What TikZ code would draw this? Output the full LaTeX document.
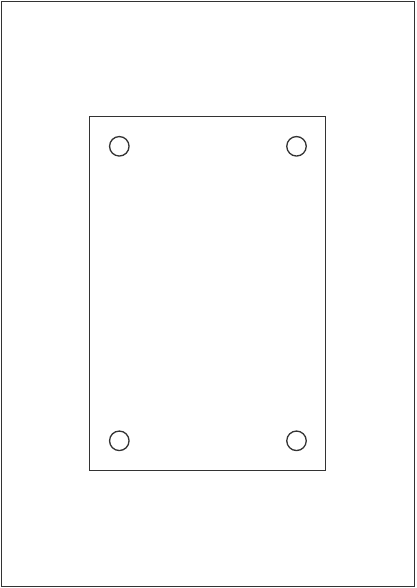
\documentclass[tikz,border=0pt]{standalone}
\begin{document}
\begin{tikzpicture}[x=1pt,y=-1pt,
  frame/.style={draw=black!80,line width=1.4pt},
  hole/.style={circle,draw=black!80,line width=1.3pt,minimum size=19.5pt,inner sep=0pt}]
\useasboundingbox (0,0) rectangle (416,588);
\fill[white] (0,0) rectangle (416,588);
\node[frame,rectangle,minimum width=413pt,minimum height=585pt,inner sep=0pt] (outer) at (208,294) {};
\node[frame,rectangle,minimum width=236pt,minimum height=354pt,inner sep=0pt] (plate) at (207.75,293.75) {};
\node[hole] (h1) at (119.3,146.3) {};
\node[hole] (h2) at (296.5,146.3) {};
\node[hole] (h3) at (119.3,440.8) {};
\node[hole] (h4) at (296.5,440.8) {};
\end{tikzpicture}
\end{document}
